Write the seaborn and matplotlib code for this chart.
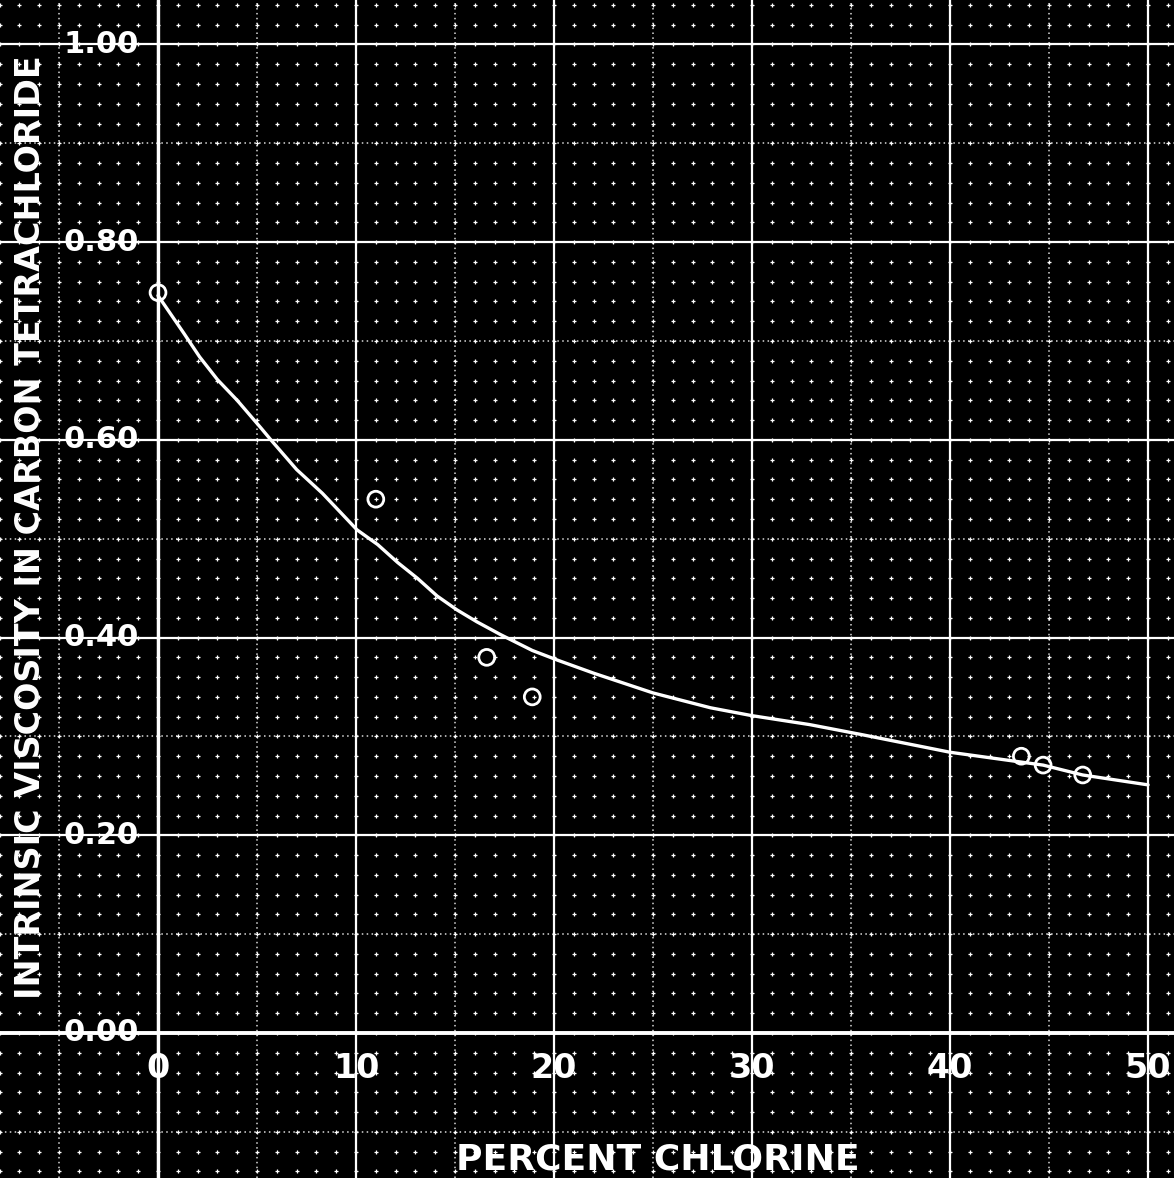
import numpy as np
import pandas as pd
import matplotlib
matplotlib.use("Agg")
import matplotlib.pyplot as plt
import seaborn as sns

# measured points (percent chlorine, intrinsic viscosity)
pct_cl = [0.0, 11.0, 16.6, 18.9, 43.6, 44.7, 46.7]
visc = [0.749, 0.540, 0.380, 0.340, 0.280, 0.271, 0.261]

# hand-drawn curve
curve_x = [0.0, 1.3, 2.1, 3.0, 4.0, 5.2, 5.7, 7.0, 8.3, 9.2, 10.05, 11.1, 12.1, 13.1,
           14.1, 15.1, 16.1, 17.3, 18.9, 20.2, 22.0, 25.0, 27.9, 30.0, 32.9, 35.5,
           40.0, 44.7, 46.7, 50.0]
curve_y = [0.746, 0.708, 0.684, 0.661, 0.640, 0.612, 0.600, 0.570, 0.546, 0.527, 0.509,
           0.494, 0.476, 0.460, 0.442, 0.428, 0.416, 0.403, 0.387, 0.377, 0.364, 0.344,
           0.329, 0.321, 0.312, 0.302, 0.284, 0.271, 0.261, 0.251]

x_ticks = [0, 10, 20, 30, 40, 50]
x_labels = ["0", "10", "20", "30", "40", "50"]
y_ticks = [0.0, 0.2, 0.4, 0.6, 0.8, 1.0]
y_labels = ["0.00", "0.20", "0.40", "0.60", "0.80", "1.00"]

xlabel = "PERCENT CHLORINE"
ylabel = "INTRINSIC VISCOSITY IN CARBON TETRACHLORIDE"

sns.set_theme(style="dark", rc={"axes.facecolor": "black", "figure.facecolor": "black"})
plt.rcParams["font.family"] = ["DejaVu Sans"]

fig = plt.figure(figsize=(11.74, 11.78), dpi=100)
ax = fig.add_axes([0, 0, 1, 1])

# graph paper: major lines, half lines, dot grid
ax.set_xticks(np.arange(-10, 61, 10))
ax.set_yticks(np.arange(-0.2, 1.21, 0.2))
ax.set_xticks(np.arange(-5, 56, 10), minor=True)
ax.set_yticks(np.arange(-0.1, 1.11, 0.2), minor=True)
ax.grid(which="major", color="white", lw=1.6)
ax.grid(which="minor", color="white", lw=1.1, linestyle=(0, (1, 2.2)), alpha=0.85)
ax.tick_params(which="both", length=0, labelbottom=False, labelleft=False)
for s in ax.spines.values():
    s.set_visible(False)
ax.set_axisbelow(True)

gx, gy = np.meshgrid(np.arange(-8, 53, 1), np.arange(-0.14, 1.06, 0.02))
ax.scatter(gx.ravel(), gy.ravel(), marker="+", s=10, lw=0.9, color="white", zorder=1)

ax.axvline(0, color="white", lw=2.4, zorder=2)
ax.axhline(0, color="white", lw=2.8, zorder=2)

curve = pd.DataFrame({"x": curve_x, "y": curve_y})
pts = pd.DataFrame({"x": pct_cl, "y": visc})
sns.lineplot(data=curve, x="x", y="y", ax=ax, color="white", lw=2.4, sort=True,
             estimator=None, zorder=3)
sns.scatterplot(data=pts, x="x", y="y", ax=ax, s=130, marker="o",
                facecolor="none", edgecolor="white", linewidth=2.0, zorder=4)
ax.set_xlabel("")
ax.set_ylabel("")

for v, lab in zip(x_ticks, x_labels):
    ax.text(v, -0.036, lab, color="white", fontsize=24, fontweight="bold",
            ha="center", va="center", zorder=5)
for v, lab in zip(y_ticks, y_labels):
    ax.text(-0.95, v, lab, color="white", fontsize=22, fontweight="bold",
            ha="right", va="center", zorder=5)

ax.text(25.25, -0.1275, xlabel, color="white", fontsize=26, fontweight="bold",
        ha="center", va="center", zorder=5)
ax.text(-6.46, 0.512, ylabel, color="white", fontsize=24, fontweight="bold",
        rotation=90, ha="center", va="center", zorder=5)

ax.set_xlim(-7.98, 51.31)
ax.set_ylim(-0.1467, 1.045)

fig.savefig("out.png", dpi=100, facecolor="black")
